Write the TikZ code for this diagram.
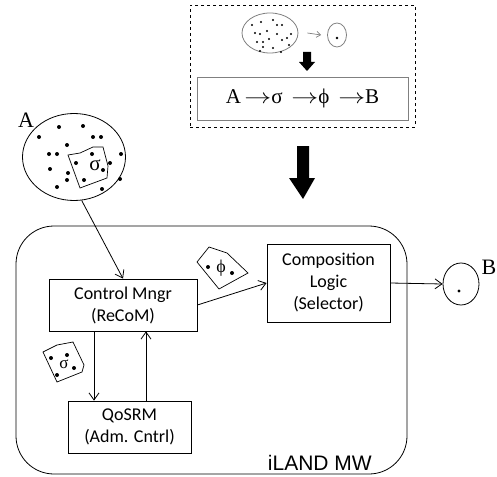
\documentclass[tikz,border=0pt]{standalone}
\usepackage{fontspec}
\setmainfont{Liberation Serif}
\newfontfamily\boxfont{Carlito}
\newfontfamily\labelfont{Liberation Sans}
\usetikzlibrary{arrows.meta,shapes.geometric}

\newcommand{\maparrow}{\,\scalebox{1.3}[1]{$\rightarrow$}}

\tikzset{
  module/.style={draw, line width=0.8pt, inner sep=0pt, align=center,
    font=\boxfont\fontsize{18}{22}\selectfont},
  conn/.style={line width=0.8pt, -{Straight Barb[length=7pt,width=10pt]}},
  pkt/.style={line width=0.7pt},
  setell/.style={ellipse, draw, line width=0.8pt, inner sep=0pt},
}

\begin{document}
\begin{tikzpicture}[x=1pt,y=-1pt]
\useasboundingbox (0,0) rectangle (497,476);

% ---- mapping overview (top) ----
\node[draw, dashed, line width=0.7pt, minimum width=225pt, minimum height=122pt, inner sep=0pt] (T) at (302.5,66) {};
\node[setell, draw=gray, minimum width=56pt, minimum height=40pt] (S) at (270,33) {};
\node[setell, draw=gray, minimum width=19pt, minimum height=24pt] (S1) at (337,35) {};
\fill (337,38) circle (1.3);
\foreach \p in {(252,25),(261,22),(273,20),(277,25),(282,25),(255,33),(260,34),(267,31),
                (277,34),(291,34),(257,42),(263,42),(269,39),(282,40),(287,38),(260,51),
                (263,47),(273,48),(281,52),(289,45)}
  \fill \p circle (1.2);
\draw[gray, line width=0.7pt, -{Straight Barb[length=4pt,width=6pt]}] ([xshift=9pt]S.east) -- ([xshift=-6pt]S1.west);
% small block arrow
\fill (303,52) -- (311,52) -- (311,62) -- (315,62) -- (307,71) -- (299,62) -- (303,62) -- cycle;
\node[draw=gray, line width=0.7pt, minimum width=211pt, minimum height=43pt, inner sep=0pt] (FB) at (302.5,98.5) {};
\node[font=\fontsize{21}{24}\selectfont, inner sep=0pt] (F) at (FB.center) {A\maparrow σ \maparrow ϕ \maparrow B};

% big block arrow
\fill (297,146) -- (309,146) -- (309,178) -- (315,178) -- (303,199) -- (289,178) -- (297,178) -- cycle;

% ---- source set A ----
\node[setell, minimum width=103pt, minimum height=87pt] (A) at (74,157) {};
\node[font=\fontsize{22}{24}\selectfont, inner sep=0pt] (Alab) at (26,120) {A};
\foreach \p in {(39,137),(59,127),(83,126),(93,137),(101,137),(67,145),(49,154),(57,154),
                (76,163),(92,154),(121,154),(50,169),(68,173),(67,180),(84,180),(103,170),
                (110,163),(120,179),(57,187),(102,189)}
  \fill \p circle (2);
\draw[pkt] (68,155) -- (80,153) -- (93,147) -- (103,147) -- (108,166) -- (107,178) -- (80,188) -- cycle;
\node[font=\fontsize{21}{24}\selectfont, inner sep=0pt] (sig) at (95,165) {σ};

% ---- middleware ----
\node[draw, line width=0.8pt, rounded corners=38pt, minimum width=391pt, minimum height=248pt, inner sep=0pt] (mw) at (211.5,350) {};
\node[font=\labelfont\fontsize{21}{23}\selectfont, anchor=base east, inner sep=0pt] (mwlab) at (372,470) {iLAND MW};

\node[module, minimum width=148pt, minimum height=52pt] (ctrl) at (123,305) {Control Mngr\\(ReCoM)};
\node[module, minimum width=123pt, minimum height=78pt] (comp) at (328.5,283) {Composition\\Logic\\(Selector)};
\node[module, minimum width=123pt, minimum height=52pt] (qos) at (129.5,427) {QoSRM\\(Adm. Cntrl)};

% ---- target set B ----
\node[setell, minimum width=36pt, minimum height=42pt] (B) at (461,284) {};
\fill (459,291) circle (1.6);
\node[font=\fontsize{22}{24}\selectfont, inner sep=0pt] (Blab) at (489,267) {B};

% ---- connectors ----
\draw[conn] (A.-80) -- (ctrl.north);
\draw[conn] (ctrl.east) -- (comp.west);
\draw[conn] (comp.east) -- (B.west);
\draw[conn] ([xshift=-29pt]ctrl.south) -- ([xshift=-29pt]ctrl.south |- qos.north);
\draw[conn] ([xshift=16.5pt]qos.north) -- ([xshift=16.5pt]qos.north |- ctrl.south);

% ---- packets in transit ----
\draw[pkt] (197,262) -- (209,247) -- (227,253) -- (248,273) -- (219,289) -- cycle;
\fill (208,267) circle (2);
\fill (232,273) circle (2);
\node[font=\fontsize{18}{20}\selectfont, inner sep=0pt] (phi) at (221,268) {ϕ};

\draw[pkt] (43,352) -- (57,345) -- (73,342) -- (84,365) -- (82,372) -- (57,382) -- cycle;
\fill (51,358) circle (2);
\fill (57,375) circle (2);
\fill (74,368) circle (2);
\fill (67,355) circle (2);
\node[font=\fontsize{17}{20}\selectfont, inner sep=0pt] (sig2) at (64,364) {σ};
\end{tikzpicture}
\end{document}
